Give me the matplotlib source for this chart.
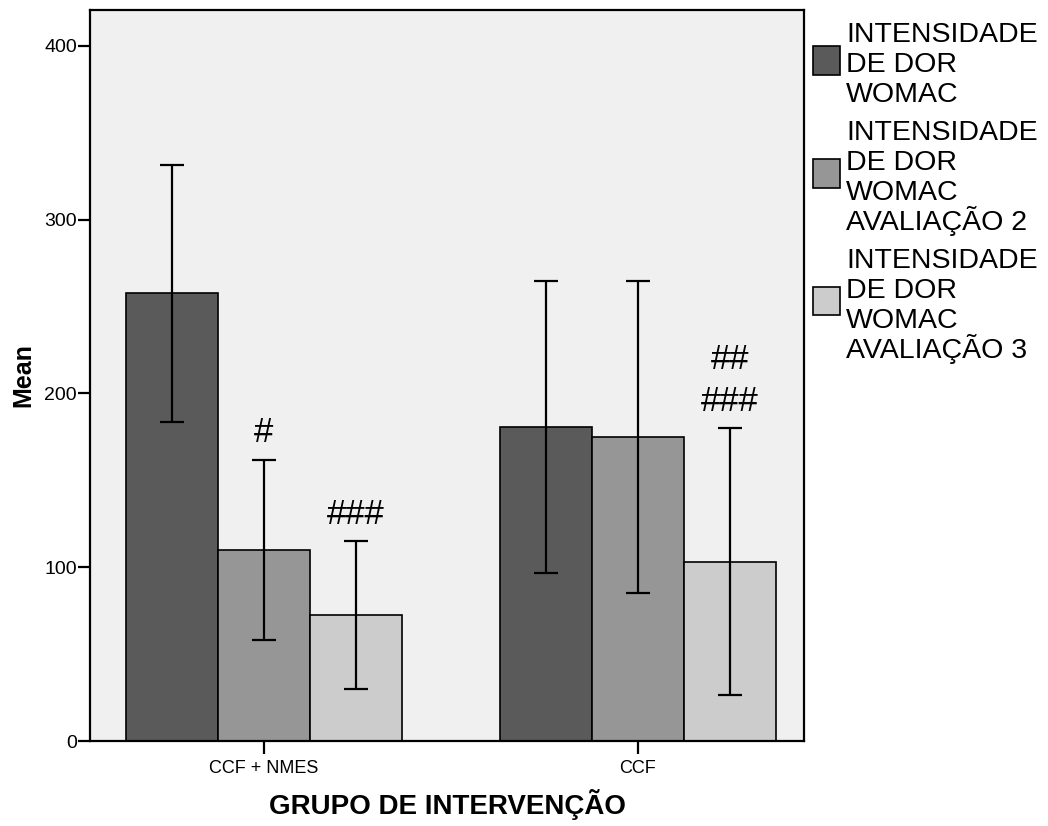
import numpy as np
import matplotlib.pyplot as plt
from matplotlib.patches import Rectangle

# Group labels and series
groups = ["CCF + NMES", "CCF"]
series = [["INTENSIDADE", "DE DOR", "WOMAC"],
          ["INTENSIDADE", "DE DOR", "WOMAC", "AVALIAÇÃO 2"],
          ["INTENSIDADE", "DE DOR", "WOMAC", "AVALIAÇÃO 3"]]
colors = ["#5a5a5a", "#969696", "#cccccc"]

# Means and 95% CI bounds per series (rows) and group (columns)
means = [[258, 180.5],
         [110, 175],
         [72.5, 103]]
ci_low = [[183.5, 96.5],
          [58, 85],
          [30, 26.5]]
ci_high = [[331.5, 264.5],
           [162, 265],
           [115, 180]]

# Significance marks above the error bars: (series, group, lines bottom-up)
marks = [(1, 0, ["#"]), (2, 0, ["###"]), (2, 1, ["###", "##"])]

font = ["Liberation Sans", "DejaVu Sans"]
W, H = 1048, 826

fig = plt.figure(figsize=(W / 100, H / 100), dpi=100)
ax = fig.add_axes([90 / W, 85 / H, 714 / W, 731 / H])
ax.set_facecolor("#f0f0f0")

x = np.arange(len(groups))
width = 0.246
for i in range(len(series)):
    pos = x + (i - 1) * width
    m = np.array(means[i])
    lo = m - np.array(ci_low[i])
    hi = np.array(ci_high[i]) - m
    ax.bar(pos, m, width, color=colors[i], edgecolor="black", linewidth=1.2,
           zorder=2)
    ax.errorbar(pos, m, yerr=[lo, hi], fmt="none", ecolor="black",
                elinewidth=1.6, capsize=8.6, capthick=1.6, zorder=3)

for i, g, lines in marks:
    for k, txt in enumerate(lines):
        ax.annotate(txt, xy=(x[g] + (i - 1) * width, ci_high[i][g]),
                    xytext=(0, 12.5 + k * 30.2), textcoords="offset points",
                    ha="center", va="baseline", fontsize=25, family=font)

ax.set_xlim(-0.465, 1.444)
ax.set_ylim(0, 420.7)
ax.set_yticks([0, 100, 200, 300, 400])
ax.set_xticks(x)
ax.set_xticklabels(groups, family=font, fontsize=13)
for lab in ax.get_yticklabels():
    lab.set_family(font)
    lab.set_fontsize(14)
ax.tick_params(axis="y", direction="out", length=9, width=1.6, pad=0.5)
ax.tick_params(axis="x", direction="out", length=9, width=1.6, pad=5)

for s in ax.spines.values():
    s.set_linewidth(1.6)

ax.set_ylabel("Mean", family=font, fontsize=18, fontweight="bold", labelpad=6)
ax.set_xlabel("GRUPO DE INTERVENÇÃO", family=font, fontsize=20,
              fontweight="bold", labelpad=8)

# Legend: swatch + stacked label lines, fixed line pitch
pitch, gap, y0 = 30, 8, 32
for i, lines in enumerate(series):
    ys = [y0 + k * pitch for k in range(len(lines))]
    for yl, txt in zip(ys, lines):
        fig.text(846 / W, 1 - (yl + 10) / H, txt, ha="left", va="baseline",
                 fontsize=20.5, family=font)
    yc = (ys[0] + ys[-1]) / 2 - 1.5
    fig.add_artist(Rectangle((813 / W, 1 - (yc + 14) / H), 27 / W, 28 / H,
                             transform=fig.transFigure, facecolor=colors[i],
                             edgecolor="black", linewidth=1.2))
    y0 = ys[-1] + pitch + gap

fig.savefig("out.png", dpi=100)
